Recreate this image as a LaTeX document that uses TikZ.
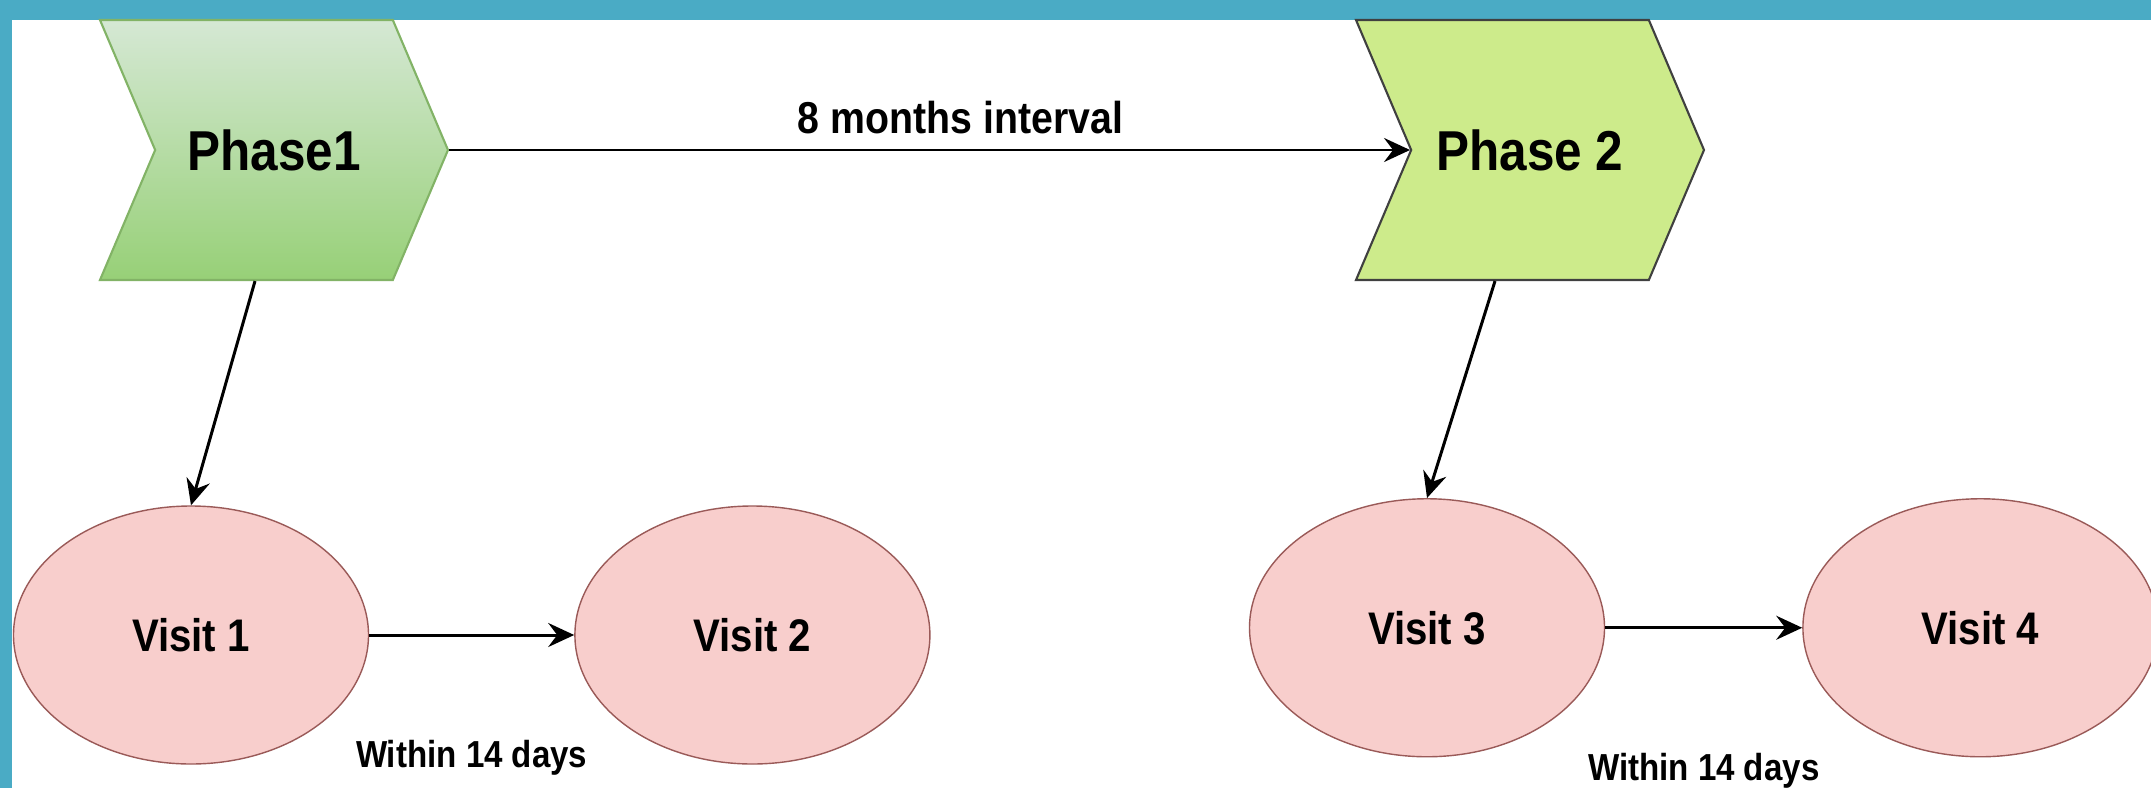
\documentclass[tikz,border=0pt]{standalone}
\usepackage{fontspec}
\setmainfont{Liberation Sans}[FakeStretch=0.88]
\usepackage{xcolor}
\usepackage{tikz}
\usetikzlibrary{arrows.meta, positioning, shapes.geometric, shapes.symbols}

\definecolor{moldura}{HTML}{4AABC5}
\definecolor{verdeclaro}{HTML}{D5E8D4}
\definecolor{verde}{HTML}{97D077}
\definecolor{verdeborda}{HTML}{82B366}
\definecolor{limao}{HTML}{CDEB8B}
\definecolor{rosa}{HTML}{F8CECC}
\definecolor{rosaborda}{HTML}{9A5A58}

\begin{document}
\begin{tikzpicture}[
    >={Stealth[length=2.6mm, width=2.4mm, inset=0.9mm]},
    fase/.style={
        signal,
        signal to=east,
        signal from=west,
        signal pointer angle=134,
        minimum width=3.48cm,
        minimum height=2.60cm,
        inner sep=0pt,
        line width=0.6pt,
        font=\bfseries\fontsize{16}{18}\selectfont
    },
    visita/.style={
        ellipse,
        draw=rosaborda,
        fill=rosa,
        minimum width=3.55cm,
        minimum height=2.58cm,
        font=\bfseries\fontsize{13}{15}\selectfont
    },
    rotulo/.style={inner sep=0pt, font=\bfseries\fontsize{10.7}{12}\selectfont},
    seta/.style={->, line width=0.85pt}
]

% moldura
\useasboundingbox (0,0) rectangle (21.51,-7.88);
\fill[moldura] (0,0) rectangle (21.51,-7.88);
\fill[white] (0.12,-0.20) rectangle (21.51,-7.88);

\node[fase, draw=verdeborda, top color=verdeclaro, bottom color=verde] (fase1) at (2.74,-1.50) {Phase1};
\node[fase, draw=black!75, fill=limao] (fase2) at (15.30,-1.50) {Phase 2};

\node[visita] (visita1) at (1.91,-6.35) {Visit 1};
\node[visita, right=2.05cm of visita1] (visita2) {Visit 2};
\node[visita, below=2.17cm of fase2, xshift=-1.03cm] (visita3) {Visit 3};
\node[visita, right=1.97cm of visita3] (visita4) {Visit 4};

\draw[seta] (fase1.east) -- node[rotulo, above=0.15cm, xshift=0.31cm, font=\bfseries\fontsize{12.7}{14}\selectfont] (intervalo) {8 months interval} (fase2.west);
\draw[seta] ([xshift=-0.19cm]fase1.south) -- (visita1.north);
\draw[seta] ([xshift=-0.35cm]fase2.south) -- (visita3.north);
\draw[seta] (visita1) -- node[rotulo, below=1.04cm] (prazo1) {Within 14 days} (visita2);
\draw[seta] (visita3) -- node[rotulo, below=1.24cm] (prazo2) {Within 14 days} (visita4);

\end{tikzpicture}
\end{document}
